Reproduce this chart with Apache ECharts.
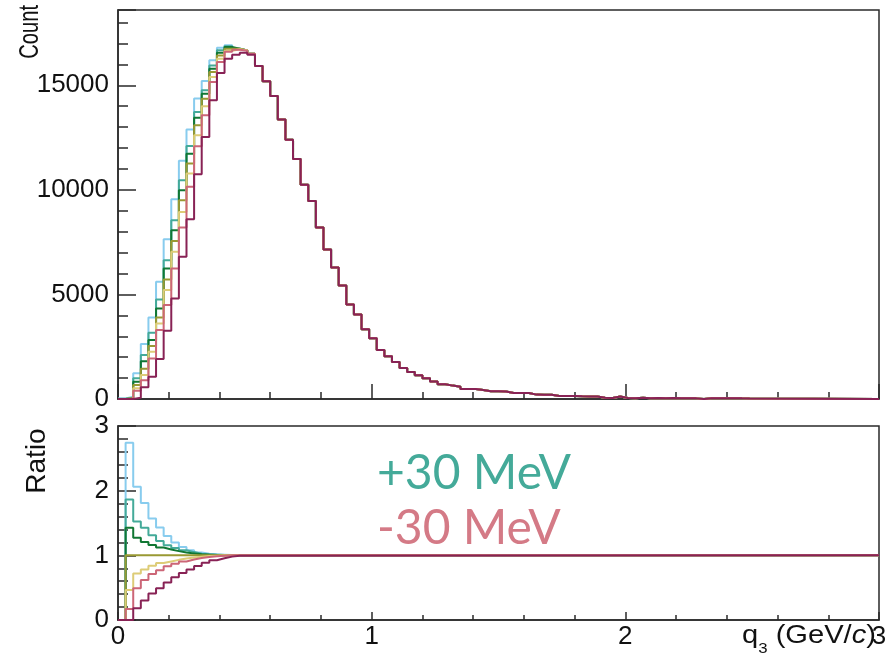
<!DOCTYPE html>
<html>
<head>
<meta charset="utf-8">
<script src="https://cdn.jsdelivr.net/npm/echarts@6/dist/echarts.min.js"></script>
<style>
html,body{margin:0;padding:0;background:#ffffff;}
#chart{width:893px;height:666px;}
</style>
</head>
<body>
<div id="chart"></div>
<script>
// ---------------- data ----------------
const BIN_WIDTH = 0.03;      // q3 bin width (GeV/c)
const X_MAX = 3;             // histogram upper edge
const xTickLabels = [0, 1, 2, 3];
const countTickLabels = [0, 5000, 10000, 15000];
const ratioTickLabels = [0, 1, 2, 3];

const seriesNames = ['+30 MeV', '+20 MeV', '+10 MeV', 'nominal', '-10 MeV', '-20 MeV', '-30 MeV'];

// Count, bins 0..17 (where the variations differ)
const countP30 = [20, 110, 1230, 2630, 3900, 5605, 7643, 9554, 11386, 12883, 14363, 15207, 16195, 16800, 16910, 16760, 16670, 16510];
const countP20 = [10, 60, 990, 2100, 3170, 4760, 6640, 8550, 10460, 12100, 13720, 14760, 15950, 16670, 16870, 16750, 16670, 16510];
const countP10 = [5, 50, 830, 1800, 2820, 4330, 6240, 8070, 9980, 11730, 13450, 14600, 15790, 16550, 16830, 16750, 16670, 16510];
const countNom = [5, 40, 670, 1450, 2530, 3900, 5715, 7560, 9500, 11260, 13090, 14360, 15630, 16430, 16750, 16750, 16670, 16510];
const countM10 = [0, 25, 510, 1150, 2260, 3614, 5206, 7037, 8947, 10778, 12609, 13994, 15394, 16270, 16650, 16720, 16670, 16510];
const countM20 = [0, 10, 400, 900, 1942, 3295, 4489, 6242, 8200, 10143, 12086, 13567, 15160, 16115, 16600, 16700, 16650, 16510];
const countM30 = [0, 0, 64, 557, 1067, 1910, 3264, 4809, 6800, 8599, 10749, 12532, 14284, 15590, 16270, 16461, 16557, 16461];

// Count, bins 18..83 (identical for all variations)
const countTail = [15920, 15190, 14490, 13370, 12400, 11470, 10250, 9470, 8200, 7150,
  6290, 5430, 4520, 4040, 3330, 2900, 2340, 2050, 1770, 1480,
  1290, 1130, 990, 840, 700, 640, 590, 480, 480, 430,
  370, 366, 362, 290, 287, 284, 210, 207, 204, 145,
  143, 140, 130, 124, 120, 55, 50, 120, 50, 40,
  55, 40, 50, 35, 45, 40, 35, 30, 0, 35,
  40, 30, 40, 30, 25, 0];

// Ratio to nominal, bins 0..16 (1 afterwards)
const ratioP30 = [0, 2.74, 2.06, 1.81, 1.57, 1.43, 1.30, 1.20, 1.13, 1.08, 1.045, 1.025, 1.015, 1.01, 1.005, 1.0, 1.0];
const ratioP20 = [0, 1.865, 1.525, 1.425, 1.31, 1.22, 1.155, 1.115, 1.08, 1.05, 1.025, 1.015, 1.01, 1.005, 1.0, 1.0, 1.0];
const ratioP10 = [0, 1.425, 1.27, 1.205, 1.16, 1.12, 1.09, 1.065, 1.045, 1.03, 1.015, 1.01, 1.005, 1.0, 1.0, 1.0, 1.0];
const ratioNom = [0, 1, 1, 1, 1, 1, 1, 1, 1, 1, 1, 1, 1, 1, 1, 1, 1];
const ratioM10 = [0, 0.465, 0.72, 0.78, 0.84, 0.88, 0.905, 0.93, 0.95, 0.965, 0.98, 0.99, 0.995, 1.0, 1.0, 1.0, 1.0];
const ratioM20 = [0, 0.17, 0.49, 0.62, 0.71, 0.77, 0.83, 0.87, 0.905, 0.935, 0.96, 0.975, 0.985, 0.995, 1.0, 1.0, 1.0];
const ratioM30 = [0, 0, 0.18, 0.30, 0.41, 0.49, 0.58, 0.66, 0.725, 0.78, 0.835, 0.885, 0.925, 0.955, 0.98, 0.995, 1.0];

const annotationPlus = '+30 MeV';
const annotationMinus = '-30 MeV';

// ---------------- styling ----------------
const colors = ['#88CCEE', '#44AA99', '#117733', '#999933', '#DDCC77', '#CC6677', '#882255'];
const AX = '#2a2a2a';
const FONT = 'Liberation Sans, Arial, Helvetica, sans-serif';

function histPoints(values) {
  const pts = values.map((v, i) => [i * BIN_WIDTH, v]);
  pts.push([X_MAX, values[values.length - 1]]);   // right edge of last bin
  return pts;
}

const countHeads = [countP30, countP20, countP10, countNom, countM10, countM20, countM30];
const ratioHeads = [ratioP30, ratioP20, ratioP10, ratioNom, ratioM10, ratioM20, ratioM30];

const series = [];
countHeads.forEach((head, k) => {
  series.push({
    name: seriesNames[k], type: 'line', step: 'end', xAxisIndex: 0, yAxisIndex: 0,
    data: histPoints(head.concat(countTail)), showSymbol: false, symbol: 'none',
    lineStyle: { color: colors[k], width: 2 }, itemStyle: { color: colors[k] },
    silent: true, animation: false
  });
});
ratioHeads.forEach((head, k) => {
  series.push({
    name: seriesNames[k] + ' ratio', type: 'line', step: 'end', xAxisIndex: 1, yAxisIndex: 2,
    data: histPoints(head), showSymbol: false, symbol: 'none',
    lineStyle: { color: colors[k], width: 2 }, itemStyle: { color: colors[k] },
    silent: true, animation: false
  });
});

const tickStyle = { color: AX, width: 1.5 };
const labelStyle = { color: '#111', fontFamily: FONT, fontSize: 26 };

const option = {
  backgroundColor: '#ffffff',
  animation: false,
  grid: [
    { left: 118, top: 10, width: 761, height: 389, show: true, borderColor: AX, borderWidth: 1.5, backgroundColor: 'transparent', outerBoundsMode: 'none', containLabel: false },
    { left: 118, top: 426, width: 761, height: 194, show: true, borderColor: AX, borderWidth: 1.5, backgroundColor: 'transparent', outerBoundsMode: 'none', containLabel: false }
  ],
  xAxis: [
    { gridIndex: 0, type: 'value', position: 'bottom', min: xTickLabels[0], max: X_MAX, interval: 1,
      axisLine: { show: true, onZero: false, lineStyle: tickStyle },
      axisTick: { show: true, inside: true, length: 15, lineStyle: tickStyle },
      minorTick: { show: true, splitNumber: 5, length: 7, lineStyle: tickStyle },
      axisLabel: { show: false }, splitLine: { show: false } },
    { gridIndex: 1, type: 'value', position: 'bottom', min: xTickLabels[0], max: X_MAX, interval: 1,
      axisLine: { show: true, onZero: false, lineStyle: tickStyle },
      axisTick: { show: true, inside: true, length: 8, lineStyle: tickStyle },
      minorTick: { show: true, splitNumber: 5, length: 5, lineStyle: tickStyle },
      axisLabel: Object.assign({ show: true, margin: 4, showMinLabel: true, showMaxLabel: true,
        formatter: v => (xTickLabels.indexOf(v) >= 0 ? String(v) : '') }, labelStyle),
      splitLine: { show: false } }
  ],
  yAxis: [
    { gridIndex: 0, type: 'value', position: 'left', offset: 0, min: 0, max: 18600, interval: 1000,
      axisLine: { show: true, onZero: false, lineStyle: tickStyle },
      axisTick: { show: true, inside: true, length: 10, lineStyle: tickStyle },
      axisLabel: Object.assign({ show: true, margin: 9, showMaxLabel: false,
        formatter: v => (countTickLabels.indexOf(v) >= 0 ? String(v) : '') }, labelStyle),
      splitLine: { show: false } },
    { gridIndex: 0, type: 'value', position: 'left', offset: 0, min: 0, max: 18600, interval: 5000,
      axisLine: { show: false, onZero: false },
      axisTick: { show: true, inside: true, length: 18, lineStyle: tickStyle },
      axisLabel: { show: false }, splitLine: { show: false } },
    { gridIndex: 1, type: 'value', position: 'left', offset: 0, min: ratioTickLabels[0], max: 3, interval: 1,
      axisLine: { show: true, onZero: false, lineStyle: tickStyle },
      axisTick: { show: true, inside: true, length: 18, lineStyle: tickStyle },
      minorTick: { show: true, splitNumber: 5, length: 10, lineStyle: tickStyle },
      axisLabel: Object.assign({ show: true, margin: 9, showMinLabel: true, showMaxLabel: true,
        formatter: v => (ratioTickLabels.indexOf(v) >= 0 ? String(v) : '') }, labelStyle),
      splitLine: { show: false } }
  ],
  graphic: [
    { type: 'text', x: 30, y: 5, rotation: Math.PI / 2, scaleX: 0.72, silent: true,
      style: { text: 'Count', fill: '#111', font: '28px ' + FONT, align: 'right', textAlign: 'right', verticalAlign: 'middle', textVerticalAlign: 'middle' } },
    { type: 'text', x: 37, y: 461, rotation: Math.PI / 2, silent: true,
      style: { text: 'Ratio', fill: '#111', font: '28px ' + FONT, align: 'center', textAlign: 'center', verticalAlign: 'middle', textVerticalAlign: 'middle' } },
    { type: 'text', left: 742, top: 623, silent: true, scaleX: 1.12,
      style: {
        text: '{n|q}{s|3}{n| (GeV/}{i|c}{n|)}',
        fill: '#111',
        rich: {
          n: { fontFamily: FONT, fontSize: 26, lineHeight: 40, fill: '#111' },
          s: { fontFamily: FONT, fontSize: 15, lineHeight: 14, verticalAlign: 'bottom', fill: '#111' },
          i: { fontFamily: FONT, fontSize: 26, lineHeight: 40, fontStyle: 'italic', fill: '#111' }
        }
      } },
    { type: 'text', x: 377, y: 474, silent: true,
      style: { text: annotationPlus, fill: '#44AA99', font: '48px Lato, sans-serif', align: 'left', textAlign: 'left', verticalAlign: 'middle', textVerticalAlign: 'middle' } },
    { type: 'text', x: 377, y: 529, silent: true,
      style: { text: annotationMinus, fill: '#D47A86', font: '48px Lato, sans-serif', align: 'left', textAlign: 'left', verticalAlign: 'middle', textVerticalAlign: 'middle' } }
  ],
  series: series
};

const chart = echarts.init(document.getElementById('chart'), null, { renderer: 'canvas', width: 893, height: 666 });
chart.setOption(option);
</script>
</body>
</html>
